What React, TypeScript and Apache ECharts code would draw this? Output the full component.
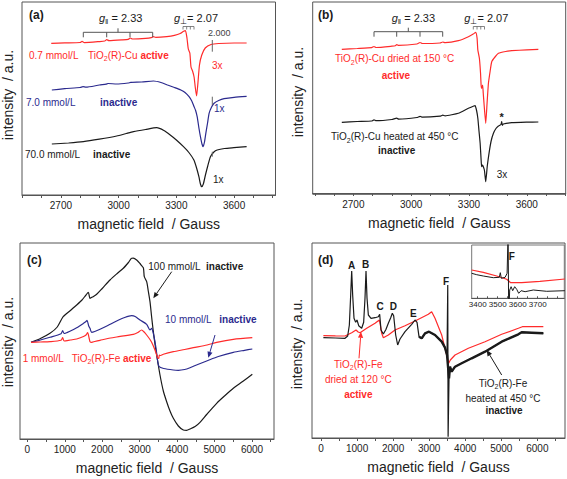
import React, { useEffect, useRef } from 'react';
import * as echarts from 'echarts';

const FONT = "'Liberation Sans', Arial, Helvetica, sans-serif";
const RED = '#ff2b2b';
const BLUE = '#2b2a8e';
const BLACK = '#1a1a1a';
const FRAME = '#555555';
const TXT = '#222222';

// ---------- tick labels ----------
const cuTickLabels = [2700, 3000, 3300, 3600];
const cuTicks = [2500, 2600, 2700, 2800, 2900, 3000, 3100, 3200, 3300, 3400, 3500, 3600, 3700, 3800];
const feTickLabels = [0, 1000, 2000, 3000, 4000, 5000, 6000];
const feTicks = [0, 500, 1000, 1500, 2000, 2500, 3000, 3500, 4000, 4500, 5000, 5500, 6000, 6500];
const insetTickLabels = [3400, 3500, 3600, 3700];
const insetTicks = [3400, 3450, 3500, 3550, 3600, 3650, 3700, 3750, 3800];

// ---------- panel (a): Cu, concentration series ([field G, intensity a.u.]) ----------
const a_active07: number[][] = [[2650,151.7],[2720,152.1],[2800,152.5],[2810,153.6],[2822,152.4],[2900,153.4],[2928,154],[2938,155.4],[2950,154.3],[3020,155.1],[3050,155.7],[3060,157],[3072,156],[3140,156.6],[3170,157.4],[3180,158.4],[3193,157.7],[3250,158.4],[3290,159.6],[3320,161.5],[3338,163.8],[3347,164.3],[3355,157],[3362,146],[3370,142],[3376,128],[3384,124],[3392,118],[3398,108],[3405,99],[3412,112],[3420,130],[3432,140],[3450,147],[3480,150.5],[3520,151.5],[3600,152],[3665,152]];
const a_inactive7: number[][] = [[2653,105],[2720,106.3],[2800,107.5],[2815,108.3],[2830,107.8],[2900,110],[2935,110.8],[2945,111.5],[2990,111],[3050,112],[3063,112.6],[3120,113],[3181,114],[3220,112.5],[3254,110],[3290,107.5],[3323,105],[3345,102.5],[3366,98.3],[3380,94],[3392,88.3],[3400,84.5],[3408,78.3],[3418,66],[3425,58.3],[3433,51],[3439,48.3],[3446,53],[3453,61.7],[3462,72],[3470,81.7],[3483,88],[3496,91.7],[3520,94.5],[3548,96.3],[3600,97.7],[3665,98.7]];
const a_inactive70: number[][] = [[2653,51],[2740,52],[2817,53.3],[2900,55.8],[2990,59],[3040,61.5],[3077,63.3],[3140,65.5],[3198,67.3],[3235,64.5],[3268,60],[3300,55],[3337,48.3],[3365,42.5],[3391,35],[3405,27],[3417,18.3],[3425,11],[3431,8.3],[3440,11],[3451,20],[3463,29],[3477,38.3],[3495,43],[3512,45],[3550,46.5],[3599,47.3],[3665,48.3]];

// ---------- panel (b): Cu, dried vs heated ----------
const b_dried150: number[][] = [[2640,143.7],[2720,144.5],[2795,145.3],[2807,146.5],[2818,145.5],[2900,146.8],[2918,147.3],[2925,148.5],[2935,147.6],[3030,149],[3046,150.5],[3058,149.5],[3150,150],[3164,151],[3176,150.3],[3245,152.3],[3297,156.3],[3322,159],[3335,160.7],[3342,155],[3346,143],[3354,134.7],[3360,120],[3363,108],[3366,104.7],[3368,105],[3371,108],[3374,100],[3378,89.7],[3387,69.7],[3394,90],[3401,109.7],[3410,122],[3418,131.3],[3435,136],[3453,139.7],[3490,141.5],[3522,142.3],[3600,143.2],[3660,143.7]];
const b_heated450: number[][] = [[2640,70.7],[2720,71.5],[2795,72],[2807,73.2],[2818,72.3],[2900,73.5],[2925,74.8],[2935,73.9],[3030,75.5],[3046,76.7],[3058,75.8],[3150,76.8],[3164,77.8],[3176,77.2],[3245,79.7],[3297,84.7],[3325,87],[3332,87.3],[3340,82],[3346,74.7],[3352,62],[3358,49.7],[3364,30],[3366,26.3],[3370,28],[3373,27],[3380,23],[3387,11.3],[3395,27],[3404,39.7],[3415,52],[3427,59.7],[3440,64.5],[3453,67],[3466,68.5],[3470,71.5],[3473,67.5],[3478,69],[3522,70.3],[3600,70.8],[3660,71]];

// ---------- panel (c): Fe, concentration series ----------
const c_inactive100: number[][] = [[99,96.7],[350,100.5],[606,105.7],[800,112],[958,122.3],[1150,128.5],[1318,134],[1460,139],[1567,144],[1629,146.7],[1674,140.7],[1740,142],[1852,144.7],[2000,150.5],[2208,159],[2400,165.5],[2564,170.7],[2700,176.5],[2786,180.7],[2830,180.8],[2920,179],[3009,175.5],[3053,173.3],[3098,171.3],[3110,168],[3124,162.3],[3187,157.3],[3230,148],[3276,137.3],[3320,122],[3365,107.3],[3409,95],[3454,84],[3543,64],[3632,48],[3721,37.3],[3810,28],[3899,20.7],[4033,13],[4166,9],[4255,8.7],[4344,10],[4480,12.5],[4611,16.7],[4789,24.5],[5056,35.7],[5280,43.5],[5501,50.7],[5750,57.5],[6008,64.7]];
const c_inactive10: number[][] = [[99,96.7],[350,99],[606,101.7],[900,105.3],[944,108.3],[985,105.5],[1150,108],[1318,111.3],[1500,115.7],[1567,117.5],[1595,118.7],[1640,113],[1674,110.7],[1718,106.7],[1800,107.5],[1941,109.7],[2150,113.5],[2386,118],[2600,121.5],[2786,123.3],[2880,122.5],[3009,119],[3187,114.7],[3276,109],[3320,110.7],[3365,105.7],[3409,97.3],[3454,86],[3480,78],[3520,72.3],[3640,70.5],[3899,69],[4033,68.7],[4200,69.5],[4344,71.3],[4550,74.5],[4789,78],[5100,82.5],[5501,86.7],[5800,88.7],[6008,90]];
const c_active1: number[][] = [[99,96.7],[350,97],[606,97.3],[900,98.7],[944,101.3],[985,98],[1150,99],[1318,100],[1500,102.5],[1567,104],[1610,106.3],[1650,101],[1674,97.3],[1718,96.7],[1800,97.5],[1941,98.7],[2150,100.5],[2386,102],[2831,104.7],[2950,106.5],[3053,109],[3120,107],[3187,104],[3276,99.5],[3320,96.7],[3409,89],[3480,81.3],[3510,80.5],[3525,83.8],[3560,83.5],[3632,84.7],[3899,87.3],[4200,89.5],[4433,91.3],[4800,94],[5056,96.7],[5501,99.7],[6008,101.3]];

// ---------- panel (d): Fe, dried vs heated ----------
const d_heated450: number[][] = [[65,100.3],[400,100],[666,99.7],[740,102],[786,113],[823,143],[851,167],[878,143],[915,119.7],[961,115.7],[998,118],[1045,112.3],[1128,109.7],[1183,115.7],[1220,139.7],[1248,167],[1276,139.7],[1313,123],[1387,119.7],[1498,120.3],[1590,121.3],[1627,123.7],[1664,108],[1729,104],[1800,108.5],[1867,114.7],[1930,120],[1978,124.7],[2015,122.3],[2071,103],[2126,93],[2191,99],[2330,106.3],[2515,113.7],[2607,118],[2663,115.7],[2718,101.3],[2792,99.7],[2884,104.7],[2995,106.3],[3162,103],[3347,96.3],[3439,90.3],[3495,83],[3515,153],[3525,1.3],[3550,59.7],[3578,71.3],[3624,66.3],[3717,71.3],[3901,74.7],[4179,79.7],[4549,86.3],[5011,96.3],[5473,103.7],[5565,105.7],[5843,105.3],[6166,104.7]];
const d_dried120: number[][] = [[65,102.3],[400,102.1],[666,102],[851,105.3],[971,108],[1030,106],[1082,105.3],[1267,109.7],[1498,114.7],[1618,118],[1650,112],[1683,104.7],[1729,100.3],[1867,103],[2052,108],[2330,112.3],[2607,117],[2800,120.5],[2977,123.7],[3069,126.3],[3162,119.7],[3347,103],[3439,89.7],[3513,79],[3541,74.7],[3587,78],[3717,83],[4086,89.7],[4549,96.3],[5011,103.7],[5473,109.7],[5584,111.3],[6166,111.3]];

// ---------- inset of (d) ----------
const inset_dried: number[][] = [[3370,28.3],[3428,26],[3495,22.3],[3545,19],[3565,15.6],[3620,15.6],[3711,17],[3836,19.3]];
const inset_heated: number[][] = [[3370,25],[3395,23.6],[3428,22.3],[3478,20.6],[3508,21],[3513,25.6],[3518,20],[3537,21],[3547,25],[3552,65],[3555,-18],[3560,8.3],[3567,11.6],[3575,7.6],[3585,11.6],[3595,9],[3605,5],[3617,7.6],[3637,6.6],[3678,8.3],[3745,7],[3836,7.6]];

// noisy (thick) part of the heated Fe trace: same points, high-field side, without the F line
const d_heatedNoisy = d_heated450.filter((p) => p[0] >= 2700 && (p[0] < 3505 || p[0] > 3540));

// ---------- helpers ----------
function xAxisCfg(gridIndex: number, min: number, max: number, labels: number[], ticks: number[], withName: boolean, small = false) {
  return {
    type: 'value', gridIndex, min, max,
    splitLine: { show: false },
    axisLine: { show: true, lineStyle: { color: FRAME, width: 1 } },
    axisTick: { show: true, customValues: ticks, length: small ? 2 : 3, inside: small, lineStyle: { color: FRAME } },
    axisLabel: { customValues: labels, formatter: (v: number) => String(v), fontSize: small ? 8 : 10, color: TXT, fontFamily: FONT, margin: small ? 2 : 5 },
    name: withName ? 'magnetic field  / Gauss' : '',
    nameLocation: 'middle', nameGap: 22,
    nameTextStyle: { fontSize: 14, color: TXT, fontFamily: FONT },
  };
}
function yAxisCfg(gridIndex: number, min: number, max: number) {
  return { type: 'value', gridIndex, min, max, show: false };
}
function lineSeries(data: number[][], color: string, idx: number, smooth: number | boolean = false, width = 1.2) {
  return {
    type: 'line', data, xAxisIndex: idx, yAxisIndex: idx, symbol: 'none', showSymbol: false,
    smooth, clip: true, silent: true, lineStyle: { color, width },
  };
}
function richText(x: number, y: number, text: string, color: string, opt: { size?: number; bold?: boolean; align?: string } = {}) {
  const size = opt.size ?? 10;
  const lh = size + 4;
  const align = opt.align ?? 'left';
  return {
    type: 'text', x, y, silent: true, z: 100,
    style: {
      text, fill: color, fontSize: size, fontFamily: FONT,
      fontWeight: opt.bold ? 'bold' : 'normal',
      textAlign: align, align, textVerticalAlign: 'middle', verticalAlign: 'middle',
      rich: {
        n: { fill: color, fontSize: size, fontFamily: FONT, lineHeight: lh },
        b: { fill: color, fontSize: size, fontFamily: FONT, fontWeight: 'bold', lineHeight: lh },
        i: { fill: color, fontSize: size, fontFamily: FONT, fontStyle: 'italic', lineHeight: lh },
        s: { fill: color, fontSize: Math.round(size * 0.7), fontFamily: FONT, lineHeight: Math.round(size * 0.7) + 1, verticalAlign: 'bottom' },
      },
    },
  };
}
function seg(x1: number, y1: number, x2: number, y2: number, color = FRAME, w = 1) {
  return { type: 'line', silent: true, z: 100, shape: { x1, y1, x2, y2 }, style: { stroke: color, lineWidth: w } };
}
function arrow(x1: number, y1: number, x2: number, y2: number, color: string) {
  const ang = Math.atan2(y2 - y1, x2 - x1);
  const L = 6, W = 2.6;
  const bx = x2 - L * Math.cos(ang), by = y2 - L * Math.sin(ang);
  const px = -Math.sin(ang) * W, py = Math.cos(ang) * W;
  return [
    seg(x1, y1, bx, by, color, 1),
    { type: 'polygon', silent: true, z: 100, shape: { points: [[x2, y2], [bx + px, by + py], [bx - px, by - py]] }, style: { fill: color } },
  ];
}
function bracket(x0: number, x3: number, xm: number, legs: number[], y: number) {
  const out: any[] = [seg(x0, y, x3, y), seg(xm, y, xm, y - 4)];
  legs.forEach((lx) => out.push(seg(lx, y, lx, y + 5)));
  return out;
}
function comb(x0: number, x1: number, y: number) {
  const out: any[] = [seg(x0, y, x1, y, '#666', 0.8)];
  const n = 4;
  for (let k = 0; k < n; k++) {
    const lx = x0 + ((x1 - x0) * k) / (n - 1);
    out.push(seg(lx, y, lx, y + 3, '#666', 0.8));
  }
  return out;
}
function yTitle(x: number, y: number) {
  return {
    type: 'text', x, y, rotation: Math.PI / 2, silent: true,
    style: { text: 'intensity  / a.u.', fill: TXT, fontSize: 14, fontFamily: FONT, textAlign: 'center', align: 'center', textVerticalAlign: 'middle', verticalAlign: 'middle' },
  };
}

const graphics: any[] = [
  // axis titles (vertical)
  yTitle(8, 95), yTitle(298, 92), yTitle(8, 342), yTitle(297, 344),
  // panel letters
  richText(29, 15, '(a)', BLACK, { size: 12, bold: true }),
  richText(318, 15, '(b)', BLACK, { size: 12, bold: true }),
  richText(27, 260, '(c)', BLACK, { size: 12, bold: true }),
  richText(318, 260, '(d)', BLACK, { size: 12, bold: true }),

  // ---- (a)
  richText(99, 18, '{i|g}{s|‖}{n| = 2.33}', BLACK, { size: 11 }),
  richText(174, 18, '{i|g}{s|⊥}{n|= 2.07}', BLACK, { size: 11 }),
  ...bracket(83.3, 152.7, 118, [83.3, 106.7, 130, 152.7], 32.3),
  ...comb(183, 194, 26.5),
  richText(208, 33, '2.000', '#444', { size: 9 }),
  seg(212.3, 40, 212.3, 51.7, '#666'),
  seg(212.3, 96.7, 212.3, 105, '#666'),
  seg(212.3, 151.7, 212.3, 156.7, '#666'),
  richText(29, 55, '0.7 mmol/L', RED),
  richText(88, 55, '{n|TiO}{s|2}{n|(R)-Cu }{b|active}', RED),
  richText(212, 65, '3x', RED),
  richText(26, 102, '7.0 mmol/L', BLUE),
  richText(100, 102, 'inactive', BLUE, { bold: true }),
  richText(214, 108, '1x', BLUE),
  richText(25, 154, '70.0 mmol/L', BLACK),
  richText(93, 154, 'inactive', BLACK, { bold: true }),
  richText(213, 179, '1x', BLACK),

  // ---- (b)
  richText(391.7, 18, '{i|g}{s|‖}{n| = 2.33}', BLACK, { size: 11 }),
  richText(464.3, 18, '{i|g}{s|⊥}{n|= 2.07}', BLACK, { size: 11 }),
  ...bracket(374, 442.7, 408.3, [374, 396.7, 420, 442.7], 31.7),
  ...comb(473.3, 484.5, 26.5),
  richText(335, 58.5, '{n|TiO}{s|2}{n|(R)-Cu dried at 150 °C}', RED),
  richText(381.7, 75, 'active', RED, { bold: true }),
  richText(331, 136.7, '{n|TiO}{s|2}{n|(R)-Cu heated at 450 °C}', BLACK),
  richText(378, 150.7, 'inactive', BLACK, { bold: true }),
  richText(496.7, 174, '3x', BLACK),
  richText(501.7, 117, '*', BLACK, { size: 11, bold: true, align: 'center' }),

  // ---- (c)
  richText(148.3, 266.7, '100 mmol/L', BLACK),
  richText(206, 266.7, 'inactive', BLACK, { bold: true }),
  ...arrow(171.7, 271.7, 153.3, 298.3, BLACK),
  richText(165, 319, '10 mmol/L', BLUE),
  richText(219.3, 319, 'inactive', BLUE, { bold: true }),
  ...arrow(215, 335, 208.3, 357.7, BLUE),
  richText(22.7, 358.3, '1 mmol/L', RED),
  richText(71.7, 358.3, '{n|TiO}{s|2}{n|(R)-Fe }{b|active}', RED),

  // ---- (d)
  richText(351.7, 265.7, 'A', BLACK, { bold: true, align: 'center' }),
  richText(365.7, 264.3, 'B', BLACK, { bold: true, align: 'center' }),
  richText(380, 306.7, 'C', BLACK, { bold: true, align: 'center' }),
  richText(393.3, 306, 'D', BLACK, { bold: true, align: 'center' }),
  richText(413.3, 313.3, 'E', BLACK, { bold: true, align: 'center' }),
  richText(446, 281.7, 'F', BLACK, { bold: true, align: 'center' }),
  richText(511.7, 256.7, 'F', BLACK, { bold: true, align: 'center' }),
  richText(358.3, 364, '{n|TiO}{s|2}{n|(R)-Fe}', RED, { align: 'center' }),
  richText(358.3, 379, 'dried at 120 °C', RED, { align: 'center' }),
  richText(358.3, 394, 'active', RED, { bold: true, align: 'center' }),
  ...arrow(359, 358.3, 361, 331.7, RED),
  richText(503, 383, '{n|TiO}{s|2}{n|(R)-Fe}', BLACK, { align: 'center' }),
  richText(503, 398, 'heated at 450 °C', BLACK, { align: 'center' }),
  richText(504, 410.5, 'inactive', BLACK, { bold: true, align: 'center' }),
  ...arrow(501.7, 375, 486.7, 350, BLACK),
];

const gridBase = { show: true, borderColor: FRAME, borderWidth: 1, backgroundColor: 'transparent', containLabel: false };

const option: any = {
  animation: false,
  backgroundColor: '#ffffff',
  grid: [
    { ...gridBase, left: 22, top: 2, width: 253.5, height: 193 },
    { ...gridBase, left: 312.7, top: 2, width: 253, height: 192.3 },
    { ...gridBase, left: 20, top: 243, width: 254, height: 196 },
    { ...gridBase, left: 312, top: 243, width: 253, height: 195 },
    { ...gridBase, left: 471.7, top: 245, width: 92.6, height: 53.3, backgroundColor: '#ffffff', borderColor: '#777' },
  ],
  xAxis: [
    xAxisCfg(0, 2498, 3815, cuTickLabels, cuTicks, true),
    xAxisCfg(1, 2489, 3802, cuTickLabels, cuTicks, true),
    xAxisCfg(2, -195, 6587, feTickLabels, feTicks, true),
    xAxisCfg(3, -250, 6767, feTickLabels, feTicks, true),
    xAxisCfg(4, 3370, 3833, insetTickLabels, insetTicks, false, true),
  ],
  yAxis: [
    yAxisCfg(0, 0, 193),
    yAxisCfg(1, -1.3, 191),
    yAxisCfg(2, 0, 196),
    yAxisCfg(3, 0, 195),
    yAxisCfg(4, 0, 53.3),
  ],
  series: [
    lineSeries(a_active07, RED, 0, 0.2),
    lineSeries(a_inactive7, BLUE, 0, 0.2),
    lineSeries(a_inactive70, BLACK, 0, 0.2),
    lineSeries(b_dried150, RED, 1, 0.15),
    lineSeries(b_heated450, BLACK, 1, 0.15),
    lineSeries(c_inactive100, BLACK, 2, 0.25),
    lineSeries(c_inactive10, BLUE, 2, 0.25),
    lineSeries(c_active1, RED, 2, 0.25),
    lineSeries(d_dried120, RED, 3, false),
    lineSeries(d_heated450, BLACK, 3, false, 1.2),
    lineSeries(d_heatedNoisy, BLACK, 3, false, 2.4),
    lineSeries(inset_dried, RED, 4, false),
    lineSeries(inset_heated, BLACK, 4, false, 1),
  ],
  graphic: { elements: graphics },
};

export default function App() {
  const ref = useRef<HTMLDivElement>(null);
  useEffect(() => {
    if (!ref.current) return;
    const chart = echarts.init(ref.current, null, { renderer: 'svg' });
    chart.setOption(option);
    return () => chart.dispose();
  }, []);
  return <div ref={ref} style={{ position: 'absolute', left: 0, top: 0, width: 567, height: 479, background: '#fff' }} />;
}
